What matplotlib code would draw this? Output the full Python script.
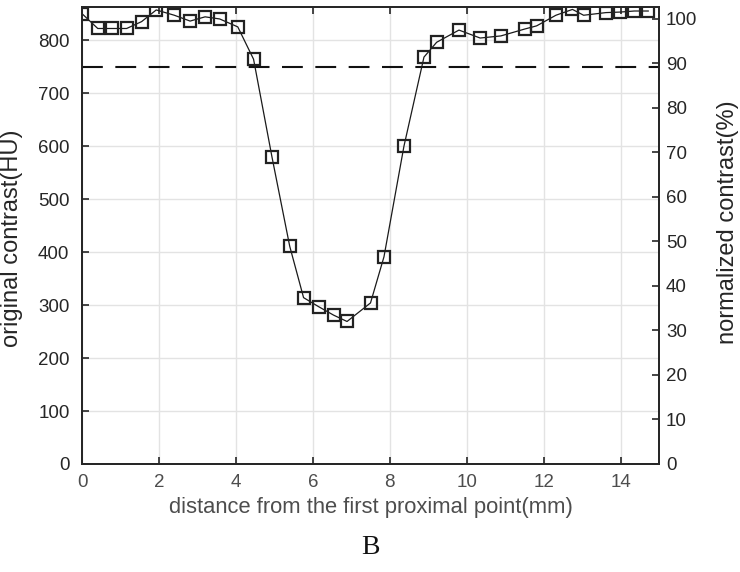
import matplotlib
matplotlib.use("Agg")
import matplotlib.pyplot as plt

# distance (mm) and original contrast (HU)
distance = [0.0, 0.41, 0.79, 1.16, 1.55, 1.93, 2.40, 2.81, 3.20, 3.58, 4.05, 4.46,
            4.94, 5.40, 5.76, 6.15, 6.54, 6.89, 7.50, 7.85, 8.37,
            8.89, 9.22, 9.80, 10.35, 10.89, 11.51, 11.82,
            12.32, 12.75, 13.04, 13.62, 13.99, 14.36, 14.72]
contrast_hu = [850, 822, 822, 822, 835, 857, 847, 836, 844, 840, 825, 764,
               579, 411, 314, 297, 281, 269, 304, 391, 600,
               768, 796, 819, 804, 808, 821, 827,
               847, 858, 847, 852, 853, 855, 855]
threshold_hu = 750
xticks = [0, 2, 4, 6, 8, 10, 12, 14]
left_ticks = [0, 100, 200, 300, 400, 500, 600, 700, 800]
right_ticks = [0, 10, 20, 30, 40, 50, 60, 70, 80, 90, 100]

plt.rcParams["font.family"] = ["Liberation Sans", "DejaVu Sans"]
axis_col = "#262626"

fig = plt.figure(figsize=(7.4, 5.72), dpi=100)
ax = fig.add_axes([82 / 740, 1 - 464 / 572, 577 / 740, 456.7 / 572])

ax.plot(distance, contrast_hu, color="#1a1a1a", lw=0.9, marker="s", ms=9,
        mfc="none", mec="#222222", mew=1.6, zorder=3)
ax.axhline(threshold_hu, color="#111111", lw=1.5, dashes=(10, 6), zorder=2)

ax.set_xlim(0, 15)
ax.set_ylim(0, 862)
ax.set_xticks(xticks)
ax.set_yticks(left_ticks)
ax.grid(True, color="#e3e3e3", lw=1.0)
ax.set_axisbelow(True)
ax.tick_params(direction="in", length=5, width=1.2, colors=axis_col,
               labelsize=13.5, top=True, labelcolor=axis_col, pad=9)
ax.tick_params(axis="x", pad=7, labelcolor="#4d4d4d")
for s in ax.spines.values():
    s.set_color(axis_col)
    s.set_linewidth(1.3)

ax2 = ax.twinx()
ax2.set_ylim(0, 102.6)
ax2.set_yticks(right_ticks)
ax2.tick_params(direction="in", length=5, width=1.2, colors=axis_col,
                labelsize=13.5, labelcolor=axis_col, pad=5)
for s in ax2.spines.values():
    s.set_color(axis_col)
    s.set_linewidth(1.3)

ax.set_xlabel("distance from the first proximal point(mm)", fontsize=15.8,
              color="#4d4d4d")
ax.set_ylabel("original contrast(HU)", fontsize=17, color=axis_col)
ax2.set_ylabel("normalized contrast(%)", fontsize=17, color=axis_col)
ax.xaxis.set_label_coords(0.5, (464 - 507) / 456.7)
ax.xaxis.label.set_va("center")
ax.yaxis.set_label_coords((12 - 82) / 577, (464 - 238) / 456.7)
ax.yaxis.label.set_va("center")
ax2.yaxis.set_label_coords((728 - 82) / 577, (464 - 222) / 456.7)
ax2.yaxis.label.set_va("center")

fig.text(370 / 740, 1 - 548 / 572, "B", ha="center", va="center",
         fontsize=20, family=["Liberation Serif", "DejaVu Serif"], color="#111111")

fig.savefig("out.png", dpi=100)
